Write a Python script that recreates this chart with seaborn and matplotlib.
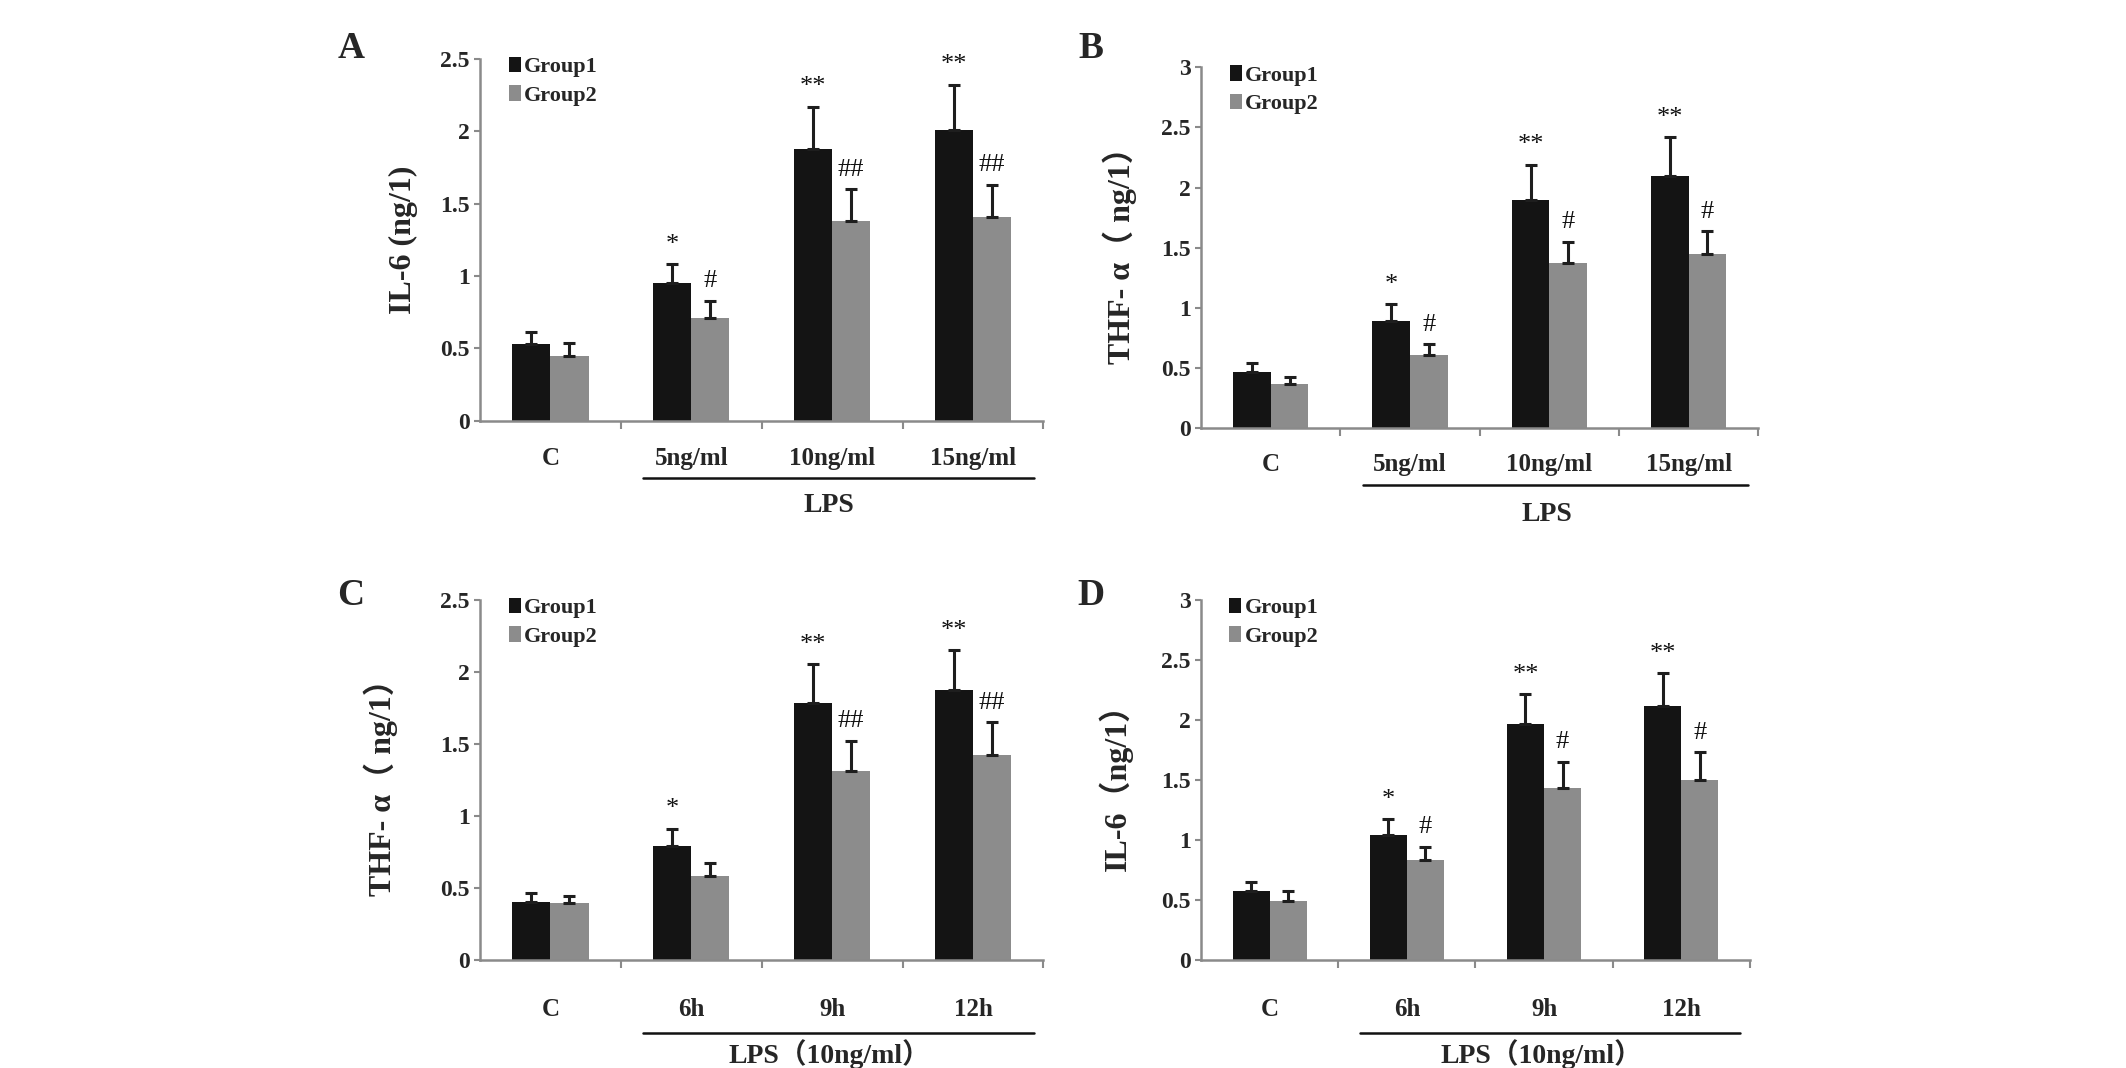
import numpy as np
import pandas as pd
import matplotlib
matplotlib.use('Agg')
import matplotlib.pyplot as plt
import matplotlib.transforms as mtransforms
from matplotlib.ticker import FormatStrFormatter, FixedLocator
import seaborn as sns

# categories
cats_dose = ['C', '5ng/ml', '10ng/ml', '15ng/ml']
cats_time = ['C', '6h', '9h', '12h']
groups = ['Group1', 'Group2']

# panel A: IL-6, dose
a_g1 = [0.53, 0.95, 1.88, 2.01]
a_g1_err = [0.08, 0.13, 0.29, 0.31]
a_g2 = [0.45, 0.71, 1.38, 1.41]
a_g2_err = [0.09, 0.12, 0.22, 0.22]
a_marks_g1 = ['', '*', '**', '**']
a_marks_g2 = ['', '#', '##', '##']

# panel B: THF-a, dose
b_g1 = [0.47, 0.89, 1.90, 2.10]
b_g1_err = [0.07, 0.14, 0.29, 0.32]
b_g2 = [0.37, 0.61, 1.37, 1.45]
b_g2_err = [0.06, 0.09, 0.18, 0.19]
b_marks_g1 = ['', '*', '**', '**']
b_marks_g2 = ['', '#', '#', '#']

# panel C: THF-a, time
c_g1 = [0.40, 0.79, 1.78, 1.87]
c_g1_err = [0.06, 0.12, 0.27, 0.28]
c_g2 = [0.39, 0.58, 1.31, 1.42]
c_g2_err = [0.05, 0.09, 0.21, 0.23]
c_marks_g1 = ['', '*', '**', '**']
c_marks_g2 = ['', '', '##', '##']

# panel D: IL-6, time
d_g1 = [0.57, 1.04, 1.96, 2.11]
d_g1_err = [0.08, 0.13, 0.25, 0.28]
d_g2 = [0.49, 0.83, 1.43, 1.50]
d_g2_err = [0.08, 0.11, 0.22, 0.23]
d_marks_g1 = ['', '*', '**', '**']
d_marks_g2 = ['', '#', '#', '#']

sns.set_style('ticks')
serif = ['Liberation Serif', 'Noto Sans CJK SC', 'DejaVu Serif']
plt.rcParams['font.family'] = serif

colors = ['#141414', '#8c8c8c']
axis_col = '#8a8a8a'


def draw_panel(ax, cats, g1, g1e, g2, g2e, m1, m2, ymax, ylabel, ylab_x,
               letter, letter_xy, group_label, tick_pad, line_y, text_y):
    df = pd.DataFrame({
        'cat': cats * 2,
        'group': [groups[0]] * 4 + [groups[1]] * 4,
        'value': g1 + g2,
    })
    sns.barplot(data=df, x='cat', y='value', hue='group', palette=colors,
                width=0.54, saturation=1, errorbar=None, ax=ax,
                linewidth=0)
    errs = [g1e, g2e]
    marks = [m1, m2]
    bar_sets = list(ax.containers)
    for k, cont in enumerate(bar_sets):
        xs = [p.get_x() + p.get_width() / 2 for p in cont.patches]
        hs = [p.get_height() for p in cont.patches]
        ax.errorbar(xs, hs, yerr=[np.zeros(4), errs[k]], fmt='none',
                    ecolor='#1e1e1e', elinewidth=2.2, capsize=4, capthick=2.2)
        for x, h, e, m in zip(xs, hs, errs[k], marks[k]):
            if m:
                ax.annotate(m, (x, h + e), xytext=(0, 6), textcoords='offset points',
                            ha='center', va='bottom', fontsize=19, color='#111111',
                            family=serif)

    ax.set_xlim(-0.5, 3.5)
    ax.set_ylim(0, ymax)
    ax.set_yticks(np.arange(0, ymax + 0.01, 0.5))
    ax.yaxis.set_major_formatter(FormatStrFormatter('%g'))
    ax.xaxis.set_minor_locator(FixedLocator([0.5, 1.5, 2.5, 3.5]))
    ax.tick_params(axis='x', which='major', length=0, pad=tick_pad,
                   labelsize=18)
    ax.tick_params(axis='x', which='minor', length=6, width=1.5, color=axis_col,
                   direction='out')
    ax.tick_params(axis='y', length=4, width=1.5, color=axis_col, labelsize=17)
    for lab in ax.get_xticklabels() + ax.get_yticklabels():
        lab.set_fontweight('bold')
    ax.set_xlabel('')
    ax.set_ylabel(ylabel, fontsize=23, fontweight='bold', family=serif)
    ax.yaxis.set_label_coords(ylab_x, 0.5)

    sns.despine(ax=ax)
    for s in ['left', 'bottom']:
        ax.spines[s].set_color(axis_col)
        ax.spines[s].set_linewidth(1.8)

    handles, labels = ax.get_legend_handles_labels()
    ax.legend(handles, labels, loc='upper left', bbox_to_anchor=(0.035, 1.03),
              frameon=False, handlelength=0.55, handleheight=0.7,
              handletextpad=0.15, labelspacing=0.35, borderaxespad=0,
              prop={'family': serif, 'weight': 'bold', 'size': 16})

    trans = mtransforms.blended_transform_factory(ax.transData, ax.transAxes)
    ax.plot([0.66, 3.43], [line_y, line_y], transform=trans, color='#111111',
            lw=1.8, clip_on=False)
    ax.text(1.98, text_y, group_label, transform=trans, ha='center', va='center',
            fontsize=20, fontweight='bold', family=serif)

    ax.figure.text(letter_xy[0], letter_xy[1], letter, fontsize=27,
                   fontweight='bold', family=serif, ha='center', va='center')


fig = plt.figure(figsize=(21.26, 10.68), dpi=100)
ax_a = fig.add_axes([0.2258, 0.606, 0.265, 0.339])
ax_b = fig.add_axes([0.565, 0.599, 0.262, 0.338])
ax_c = fig.add_axes([0.2258, 0.1015, 0.265, 0.337])
ax_d = fig.add_axes([0.565, 0.1015, 0.258, 0.337])

draw_panel(ax_a, cats_dose, a_g1, a_g1_err, a_g2, a_g2_err, a_marks_g1, a_marks_g2,
           2.5, 'IL-6 (ng/1)', -0.11, 'A', (0.165, 0.955), 'LPS', 19, -0.157, -0.235)
draw_panel(ax_b, cats_dose, b_g1, b_g1_err, b_g2, b_g2_err, b_marks_g1, b_marks_g2,
           3.0, 'THF- α（ ng/1）', -0.115, 'B', (0.513, 0.955), 'LPS', 18, -0.157, -0.24)
draw_panel(ax_c, cats_time, c_g1, c_g1_err, c_g2, c_g2_err, c_marks_g1, c_marks_g2,
           2.5, 'THF- α（ ng/1）', -0.145, 'C', (0.165, 0.442), 'LPS（10ng/ml）', 28,
           -0.204, -0.262)
draw_panel(ax_d, cats_time, d_g1, d_g1_err, d_g2, d_g2_err, d_marks_g1, d_marks_g2,
           3.0, 'IL-6（ng/1）', -0.125, 'D', (0.513, 0.442), 'LPS（10ng/ml）', 28,
           -0.204, -0.262)

fig.savefig('out.png', dpi=100, facecolor='white')
